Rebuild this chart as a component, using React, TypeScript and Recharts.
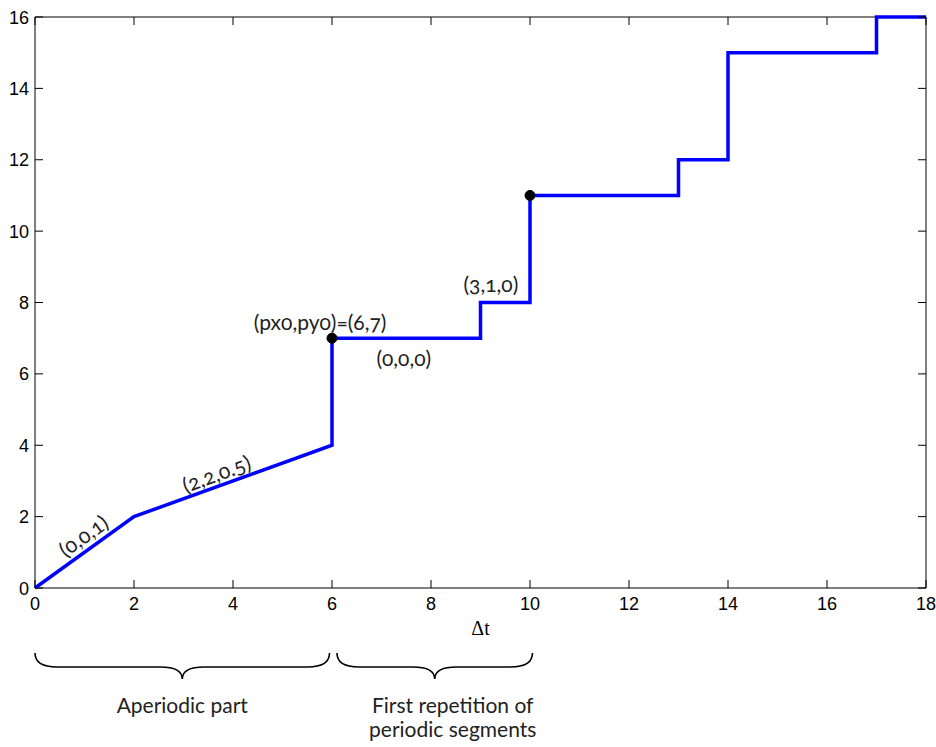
import { Customized, Line, LineChart, ReferenceArea, ReferenceDot, XAxis, YAxis } from "recharts";

// piecewise-linear path
const timeSteps = [0, 2, 6, 6, 9, 9, 10, 10, 13, 13, 14, 14, 17, 17, 18];
const values = [0, 2, 4, 7, 7, 8, 8, 11, 11, 12, 12, 15, 15, 16, 16];

const xTicks = [0, 2, 4, 6, 8, 10, 12, 14, 16, 18];
const yTicks = [0, 2, 4, 6, 8, 10, 12, 14, 16];

// marked points
const markerX = [6, 10];
const markerY = [7, 11];

// segment annotations: text, anchor (data coords), rotation in degrees
const noteText = ["(0,0,1)", "(2,2,0.5)", "(px0,py0)=(6,7)", "(0,0,0)", "(3,1,0)"];
const noteX = [0.97, 3.66, 5.76, 7.45, 9.21];
const noteY = [1.48, 3.22, 7.47, 6.45, 8.53];
const noteAngle = [-36, -20, 0, 0, 0];

// braces under the axis: start / end in data x
const braceStart = [0, 6.1];
const braceEnd = [5.95, 10.05];
const braceLabels = [["Aperiodic part"], ["First repetition of", "periodic segments"]];

const data = timeSteps.map((t, i) => ({ t, v: values[i] }));

const W = 936;
const H = 747;
const PLOT_LEFT = 35;
const PLOT_TOP = 17;
const PLOT_RIGHT = 926;
const PLOT_BOTTOM = 588;
const X_MAX = 18;
const Y_MAX = 16;

const toPx = (v: number) => PLOT_LEFT + (v / X_MAX) * (PLOT_RIGHT - PLOT_LEFT);

const tickStyle = { fontFamily: "'Liberation Sans', Arial, sans-serif", fontSize: "18px", fill: "#000" };
const noteFont = "Lato, 'Open Sans', sans-serif";

function XTick({ x, payload }: any) {
  return (
    <g>
      <line x1={x} x2={x} y1={PLOT_BOTTOM} y2={PLOT_BOTTOM - 8} stroke="#000" />
      <line x1={x} x2={x} y1={PLOT_TOP} y2={PLOT_TOP + 8} stroke="#000" />
      <text x={x} y={PLOT_BOTTOM + 22} textAnchor="middle" style={tickStyle}>
        {payload.value}
      </text>
    </g>
  );
}

function YTick({ y, payload }: any) {
  return (
    <g>
      <line x1={PLOT_LEFT} x2={PLOT_LEFT + 8} y1={y} y2={y} stroke="#000" />
      <line x1={PLOT_RIGHT - 8} x2={PLOT_RIGHT} y1={y} y2={y} stroke="#000" />
      <text x={PLOT_LEFT - 6} y={y + 6.5} textAnchor="end" style={tickStyle}>
        {payload.value}
      </text>
    </g>
  );
}

function Brace({ x0, x1 }: { x0: number; x1: number }) {
  const top = 653;
  const mid = 667;
  const tip = 679;
  const xm = (x0 + x1) / 2;
  const r = 22;
  const d = [
    `M${x0},${top}`,
    `Q${x0},${mid} ${x0 + r},${mid}`,
    `L${xm - r},${mid}`,
    `Q${xm},${mid} ${xm},${tip}`,
    `Q${xm},${mid} ${xm + r},${mid}`,
    `L${x1 - r},${mid}`,
    `Q${x1},${mid} ${x1},${top}`,
  ].join(" ");
  return <path d={d} fill="none" stroke="#000" strokeWidth={1.6} />;
}

function BelowAxis() {
  return (
    <g>
      <text
        x={(PLOT_LEFT + PLOT_RIGHT) / 2}
        y={635}
        textAnchor="middle"
        style={{ fontFamily: "'Liberation Serif', 'Times New Roman', serif", fontSize: "20px", fill: "#000" }}
      >
        Δt
      </text>
      {braceStart.map((s, i) => {
        const x0 = toPx(s);
        const x1 = toPx(braceEnd[i]);
        const cx = i === 0 ? (x0 + x1) / 2 : (x0 + x1) / 2 + 18;
        return (
          <g key={i}>
            <Brace x0={x0} x1={x1} />
            {braceLabels[i].map((line, j) => (
              <text
                key={line}
                x={cx}
                y={713 + j * 24}
                textAnchor="middle"
                style={{ fontFamily: noteFont, fontSize: "21px", fill: "#222" }}
              >
                {line}
              </text>
            ))}
          </g>
        );
      })}
    </g>
  );
}

function Note({ cx, cy, text, angle }: any) {
  return (
    <text
      x={cx}
      y={cy}
      textAnchor="middle"
      dominantBaseline="central"
      transform={`rotate(${angle} ${cx} ${cy})`}
      style={{
        fontFamily: noteFont,
        fontSize: "21px",
        fill: "#222",
        fontVariantNumeric: "oldstyle-nums",
      }}
    >
      {text}
    </text>
  );
}

export default function App() {
  return (
    <div style={{ position: "absolute", left: 0, top: 0, background: "#fff" }}>
      <LineChart
        width={W}
        height={H}
        data={data}
        margin={{ top: PLOT_TOP, right: W - PLOT_RIGHT, left: 0, bottom: H - PLOT_BOTTOM - 40 }}
      >
        <XAxis
          dataKey="t"
          type="number"
          domain={[0, X_MAX]}
          ticks={xTicks}
          height={40}
          axisLine={false}
          tickLine={false}
          tick={<XTick />}
        />
        <YAxis
          type="number"
          domain={[0, Y_MAX]}
          ticks={yTicks}
          width={PLOT_LEFT}
          axisLine={false}
          tickLine={false}
          tick={<YTick />}
        />
        <ReferenceArea
          x1={0}
          x2={X_MAX}
          y1={0}
          y2={Y_MAX}
          fill="none"
          fillOpacity={0}
          stroke="#000"
          strokeWidth={1}
        />
        <Line
          dataKey="v"
          type="linear"
          stroke="#0000ff"
          strokeWidth={3.5}
          strokeLinejoin="miter"
          dot={false}
          activeDot={false}
          isAnimationActive={false}
        />
        {markerX.map((mx, i) => (
          <ReferenceDot key={`m${i}`} x={mx} y={markerY[i]} r={5} fill="#000" stroke="#000" />
        ))}
        {noteText.map((t, i) => (
          <ReferenceDot
            key={`n${i}`}
            x={noteX[i]}
            y={noteY[i]}
            r={0}
            shape={(p: any) => <Note cx={p.cx} cy={p.cy} text={t} angle={noteAngle[i]} />}
          />
        ))}
        <Customized component={<BelowAxis />} />
      </LineChart>
    </div>
  );
}
